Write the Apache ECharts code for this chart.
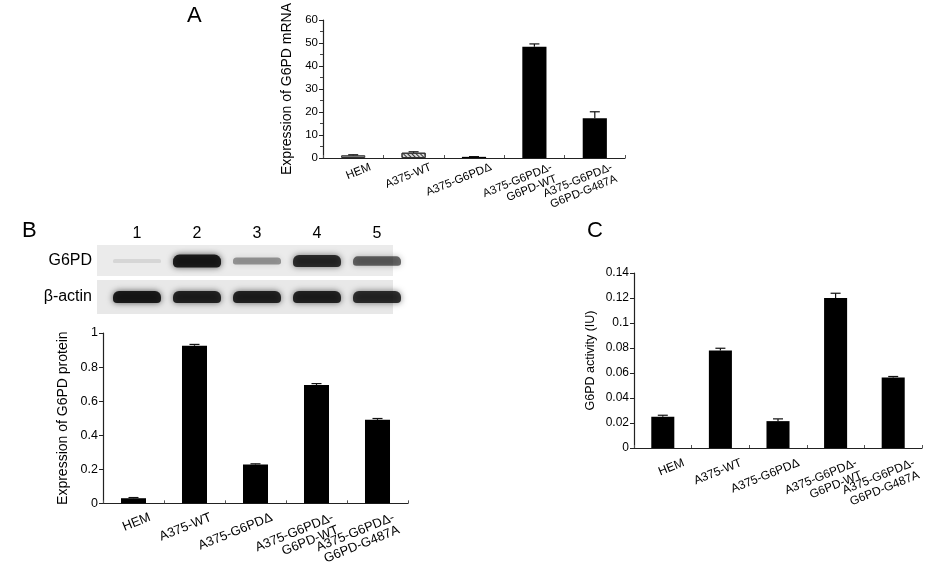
<!DOCTYPE html>
<html>
<head>
<meta charset="utf-8">
<script src="https://cdn.jsdelivr.net/npm/echarts@6/dist/echarts.min.js"></script>
<style>html,body{margin:0;padding:0;background:#fff}#c{width:945px;height:568px}</style>
</head>
<body>
<div id="c"></div>
<script>
// ---- data ----
var categories = ['HEM', 'A375-WT', 'A375-G6PD\u0394', 'A375-G6PD\u0394-\nG6PD-WT', 'A375-G6PD\u0394-\nG6PD-G487A'];
var mrnaValues = [1.2, 2.3, 0.5, 48.4, 17.3];
var mrnaErrors = [0.2, 0.4, 0.1, 1.2, 2.8];
var proteinValues = [0.03, 0.925, 0.228, 0.695, 0.49];
var proteinErrors = [0.004, 0.008, 0.004, 0.008, 0.008];
var activityValues = [0.025, 0.078, 0.0215, 0.120, 0.0565];
var activityErrors = [0.0012, 0.0018, 0.0018, 0.0038, 0.0007];
var lanes = ['1', '2', '3', '4', '5'];
var blotRows = ['\u03b2-actin', 'G6PD'];
var g6pdBand = [0.1, 1.0, 0.42, 0.9, 0.65];
var actinBand = [1.0, 0.95, 0.95, 0.95, 0.9];

var FONT = 'Liberation Sans, Arial, sans-serif';

function errorSeries(values, errors, idx) {
  return {
    type: 'custom', xAxisIndex: idx, yAxisIndex: idx, z: 5,
    data: values.map(function (v, i) { return [i, v, v + errors[i]]; }),
    renderItem: function (params, api) {
      var base = api.coord([api.value(0), api.value(1)]);
      var top = api.coord([api.value(0), api.value(2)]);
      var x = base[0];
      var style = { stroke: '#111', lineWidth: 1.2 };
      return {
        type: 'group', children: [
          { type: 'line', shape: { x1: x, y1: base[1], x2: x, y2: top[1] }, style: style },
          { type: 'line', shape: { x1: x - 5, y1: top[1], x2: x + 5, y2: top[1] }, style: style }
        ]
      };
    }
  };
}

function xAxisCfg(idx, fontSize, margin, shift, lineHeight) {
  return {
    type: 'category', gridIndex: idx, data: categories,
    axisLine: { lineStyle: { color: '#222', width: 1.2 } },
    axisTick: { show: true, inside: true, length: 3, lineStyle: { color: '#555' } },
    axisLabel: { rotate: 22, align: 'right', verticalAlign: 'top', margin: margin, interval: 0,
      padding: [0, -shift, 0, 0],
      fontFamily: FONT, fontSize: fontSize, color: '#000', lineHeight: lineHeight }
  };
}
function yAxisCfg(idx, max, interval, name, nameGap, nameSize, labelSize, minor) {
  return {
    type: 'value', gridIndex: idx, min: 0, max: max, interval: interval,
    name: name, nameLocation: 'middle', nameGap: nameGap,
    nameTextStyle: { fontFamily: FONT, fontSize: nameSize, color: '#000' },
    splitLine: { show: false },
    axisLine: { show: true, lineStyle: { color: '#222', width: 1.2 } },
    axisTick: { show: true, length: 4, lineStyle: { color: '#222' } },
    minorTick: { show: !!minor, splitNumber: 2, length: 3, lineStyle: { color: '#444' } },
    axisLabel: { fontFamily: FONT, fontSize: labelSize, color: '#000', margin: 5 }
  };
}

var chart = echarts.init(document.getElementById('c'));
var option = {
  backgroundColor: '#fff',
  animation: false,
  grid: [
    { left: 323, top: 20, width: 302, height: 138 },
    { left: 103, top: 333, width: 305, height: 171 },
    { left: 634, top: 273, width: 288, height: 175 },
    { left: 107, top: 243, width: 300, height: 72 }
  ],
  xAxis: [
    xAxisCfg(0, 11.5, 9, 16, 12.5),
    xAxisCfg(1, 13, 13, 15, 13.5),
    xAxisCfg(2, 12, 16, 20, 13),
    { type: 'category', gridIndex: 3, data: lanes, position: 'top',
      axisLine: { show: false }, axisTick: { show: false },
      axisLabel: { fontFamily: FONT, fontSize: 16, color: '#000', margin: 1 } }
  ],
  yAxis: [
    yAxisCfg(0, 60, 10, 'Expression of G6PD mRNA', 29, 14, 11.5, true),
    yAxisCfg(1, 1, 0.2, 'Expression of G6PD protein', 33, 14, 12.5, false),
    yAxisCfg(2, 0.14, 0.02, 'G6PD activity (IU)', 37, 12.5, 12, false),
    { type: 'category', gridIndex: 3, data: blotRows,
      axisLine: { show: false }, axisTick: { show: false }, splitLine: { show: false },
      axisLabel: { fontFamily: FONT, fontSize: 16, color: '#000', margin: 15 } }
  ],
  graphic: [
    { type: 'rect', shape: { x: 97, y: 245, width: 296, height: 31 }, style: { fill: '#ebebeb' }, z: -1 },
    { type: 'rect', shape: { x: 97, y: 280, width: 296, height: 34 }, style: { fill: '#e8e8e8' }, z: -1 },
    { type: 'text', left: 187, top: 5, style: { text: 'A', fontFamily: FONT, fontSize: 22, fill: '#000' } },
    { type: 'text', left: 22, top: 220, style: { text: 'B', fontFamily: FONT, fontSize: 22, fill: '#000' } },
    { type: 'text', left: 587, top: 220, style: { text: 'C', fontFamily: FONT, fontSize: 22, fill: '#000' } }
  ],
  series: [
    { type: 'bar', xAxisIndex: 0, yAxisIndex: 0, barWidth: '40%',
      data: mrnaValues.map(function (v, i) {
        var it = { value: v };
        if (i === 0) it.itemStyle = { color: '#8c8c8c', borderColor: '#333', borderWidth: 1 };
        else if (i === 1) it.itemStyle = { color: '#d8d8d8', borderColor: '#333', borderWidth: 1,
          decal: { symbol: 'rect', color: '#333', dashArrayX: [1, 0], dashArrayY: [1, 2], rotation: Math.PI / 4, symbolSize: 1 } };
        else it.itemStyle = { color: '#000' };
        return it;
      }) },
    errorSeries(mrnaValues, mrnaErrors, 0),
    { type: 'bar', xAxisIndex: 1, yAxisIndex: 1, barWidth: '41%', itemStyle: { color: '#000' }, data: proteinValues },
    errorSeries(proteinValues, proteinErrors, 1),
    { type: 'bar', xAxisIndex: 2, yAxisIndex: 2, barWidth: '40%', itemStyle: { color: '#000' }, data: activityValues },
    errorSeries(activityValues, activityErrors, 2),
    { type: 'custom', xAxisIndex: 3, yAxisIndex: 3,
      data: g6pdBand.map(function (v, i) { return [i, 1, v]; }).concat(actinBand.map(function (v, i) { return [i, 0, v]; })),
      renderItem: function (params, api) {
        var c = api.coord([api.value(0), api.value(1)]);
        var k = api.value(2);
        var w = api.size([1, 0])[0] * 0.8;
        var h = api.value(1) === 1 ? 3 + 10 * k : 10 + 2 * k;
        return { type: 'rect',
          shape: { x: c[0] - w / 2, y: c[1] - h / 2, width: w, height: h, r: [h / 2, h / 2, h / 3, h / 3] },
          style: { fill: 'rgba(12,12,12,' + (0.9 * k) + ')', shadowBlur: 6, shadowColor: 'rgba(0,0,0,' + (0.7 * k) + ')' } };
      } }
  ]
};
chart.setOption(option);
</script>
</body>
</html>
